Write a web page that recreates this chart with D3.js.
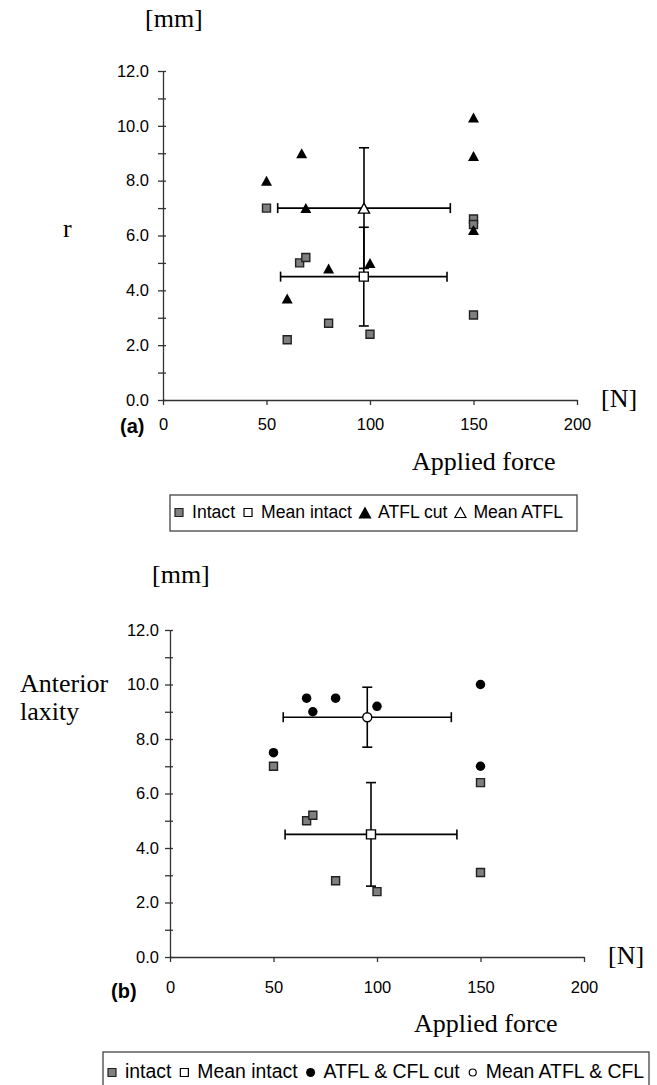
<!DOCTYPE html>
<html>
<head>
<meta charset="utf-8">
<script src="https://cdn.jsdelivr.net/npm/d3@7"></script>
<style>
  body { margin: 0; background: #fff; }
  svg { display: block; }
  .tick text { font-family: "Liberation Sans", Arial, sans-serif; font-size: 16.5px; fill: #000; }
  .tick line, .domain { stroke: #333; stroke-width: 1.3; }
  .serif { font-family: "Liberation Serif", "Times New Roman", serif; font-size: 26px; fill: #000; }
  .sans { font-family: "Liberation Sans", Arial, sans-serif; fill: #000; }
</style>
</head>
<body>
<script>
// ---- panel (a): intact vs ATFL cut ----
var forceIntactA = [50, 60, 66, 69, 80, 100, 150, 150, 150];
var laxIntactA   = [7.0, 2.2, 5.0, 5.2, 2.8, 2.4, 6.6, 6.4, 3.1];
var forceCutA    = [50, 60, 67, 69, 80, 100, 150, 150, 150];
var laxCutA      = [8.0, 3.7, 9.0, 7.0, 4.8, 5.0, 10.3, 8.9, 6.2];
// means and sd: [intact, ATFL cut]
var meanForceA = [97.0, 97.1];
var sdForceA   = [40.2, 41.7];
var meanLaxA   = [4.5, 7.0];
var sdLaxA     = [1.8, 2.2];
var legendA    = ["Intact", "Mean intact", "ATFL cut", "Mean ATFL"];

// ---- panel (b): intact vs ATFL & CFL cut ----
var forceIntactB = [50, 66, 69, 80, 100, 150, 150];
var laxIntactB   = [7.0, 5.0, 5.2, 2.8, 2.4, 6.4, 3.1];
var forceCutB    = [50, 66, 69, 80, 100, 150, 150];
var laxCutB      = [7.5, 9.5, 9.0, 9.5, 9.2, 10.0, 7.0];
// means and sd: [intact, ATFL & CFL cut]
var meanForceB = [97.1, 95.3];
var sdForceB   = [41.5, 40.6];
var meanLaxB   = [4.5, 8.8];
var sdLaxB     = [1.9, 1.1];
var legendB    = ["intact", "Mean intact", "ATFL & CFL cut", "Mean ATFL & CFL"];

var forceTicks = [0, 50, 100, 150, 200];
var laxTicks   = [0, 2, 4, 6, 8, 10, 12];
var laxMinor   = [1, 3, 5, 7, 9, 11];

var svg = d3.select("body").append("svg")
    .attr("width", 657)
    .attr("height", 1085);

// marker path for a given kind, s = size in px
function markerPath(kind, s) {
  if (kind == "square") {
    return "M" + (-s/2) + "," + (-s/2) + "h" + s + "v" + s + "h" + (-s) + "Z";
  }
  if (kind == "triangle") {
    var w = s * 1.1;
    return "M0," + (-s/2) + "L" + (w/2) + "," + (s/2) + "L" + (-w/2) + "," + (s/2) + "Z";
  }
  // circle
  var r = s / 2;
  return "M" + r + ",0A" + r + "," + r + " 0 1,1 " + (-r) + ",0A" + r + "," + r + " 0 1,1 " + r + ",0Z";
}

// style for each of the four series: raw intact, mean intact, raw cut, mean cut
function seriesStyle(i, cutKind) {
  if (i == 0) return {kind: "square", fill: "#7f7f7f", stroke: "#222"};
  if (i == 1) return {kind: "square", fill: "#fff", stroke: "#000"};
  if (i == 2) return {kind: cutKind, fill: "#000", stroke: "none"};
  return {kind: cutKind, fill: "#fff", stroke: "#000"};
}

function drawPanel(p) {
  var x = d3.scaleLinear().domain([0, 200]).range([p.left, p.right]);
  var y = d3.scaleLinear().domain([0, 12]).range([p.bottom, p.top]);

  var g = svg.append("g");

  // y axis, major ticks crossing the line
  var yAxis = g.append("g")
      .attr("transform", "translate(" + p.left + ",0)")
      .call(d3.axisLeft(y).tickValues(laxTicks).tickFormat(d3.format(".1f"))
          .tickSizeInner(5).tickSizeOuter(0).tickPadding(p.yPad));
  yAxis.selectAll(".tick line").attr("x1", 3);

  // minor ticks
  g.append("g")
      .attr("transform", "translate(" + p.left + ",0)")
      .call(d3.axisLeft(y).tickValues(laxMinor).tickFormat("").tickSizeInner(5).tickSizeOuter(0))
      .call(function(a) { a.select(".domain").remove(); })
      .selectAll(".tick line").attr("x1", 3);

  // x axis
  g.append("g")
      .attr("transform", "translate(0," + p.bottom + ")")
      .call(d3.axisBottom(x).tickValues(forceTicks).tickFormat(d3.format("d"))
          .tickSizeInner(5).tickSizeOuter(0).tickPadding(p.xPad));

  // raw points
  var intact = p.forceIntact.map(function(f, i) { return {f: f, v: p.laxIntact[i]}; });
  var cut = p.forceCut.map(function(f, i) { return {f: f, v: p.laxCut[i]}; });

  var s0 = seriesStyle(0, p.cutKind);
  g.selectAll(".intact")
      .data(intact)
      .enter().append("path")
      .attr("class", "intact")
      .attr("transform", function(d) { return "translate(" + x(d.f) + "," + y(d.v) + ")"; })
      .attr("d", markerPath("square", 8))
      .attr("fill", s0.fill)
      .attr("stroke", s0.stroke)
      .attr("stroke-width", 1.4);

  var s2 = seriesStyle(2, p.cutKind);
  g.selectAll(".cut")
      .data(cut)
      .enter().append("path")
      .attr("class", "cut")
      .attr("transform", function(d) { return "translate(" + x(d.f) + "," + y(d.v) + ")"; })
      .attr("d", markerPath(p.cutKind, p.cutKind == "triangle" ? 10 : 9.5))
      .attr("fill", s2.fill);

  // means with error bars
  var means = p.meanForce.map(function(f, i) {
    return {f: f, v: p.meanLax[i], sf: p.sdForce[i], sv: p.sdLax[i], i: i};
  });

  var bars = g.selectAll(".err")
      .data(means)
      .enter().append("g")
      .attr("class", "err")
      .attr("stroke", "#000")
      .attr("stroke-width", 1.6)
      .attr("fill", "none");

  bars.append("line")
      .attr("x1", function(d) { return x(d.f - d.sf); })
      .attr("x2", function(d) { return x(d.f + d.sf); })
      .attr("y1", function(d) { return y(d.v); })
      .attr("y2", function(d) { return y(d.v); });
  bars.append("line")
      .attr("x1", function(d) { return x(d.f); })
      .attr("x2", function(d) { return x(d.f); })
      .attr("y1", function(d) { return y(d.v - d.sv); })
      .attr("y2", function(d) { return y(d.v + d.sv); });
  // caps
  [-1, 1].forEach(function(k) {
    bars.append("line")
        .attr("x1", function(d) { return x(d.f + k * d.sf); })
        .attr("x2", function(d) { return x(d.f + k * d.sf); })
        .attr("y1", function(d) { return y(d.v) - 5; })
        .attr("y2", function(d) { return y(d.v) + 5; });
    bars.append("line")
        .attr("x1", function(d) { return x(d.f) - 5; })
        .attr("x2", function(d) { return x(d.f) + 5; })
        .attr("y1", function(d) { return y(d.v + k * d.sv); })
        .attr("y2", function(d) { return y(d.v + k * d.sv); });
  });

  g.selectAll(".mean")
      .data(means)
      .enter().append("path")
      .attr("class", "mean")
      .attr("transform", function(d) { return "translate(" + x(d.f) + "," + y(d.v) + ")"; })
      .attr("d", function(d) {
        return d.i == 0 ? markerPath("square", 9) : markerPath(p.cutKind, p.cutKind == "triangle" ? 10 : 9);
      })
      .attr("fill", "#fff")
      .attr("stroke", "#000")
      .attr("stroke-width", 1.4);

  // titles
  g.append("text").attr("class", "serif")
      .attr("x", p.mmX).attr("y", p.mmY).text("[mm]");
  g.append("text").attr("class", "serif")
      .attr("x", p.right + 24).attr("y", p.bottom + 7).text("[N]");
  g.append("text").attr("class", "serif")
      .attr("x", p.forceLabelX).attr("y", p.forceLabelY).text("Applied force");
  p.yLabel.forEach(function(t, i) {
    g.append("text").attr("class", "serif")
        .attr("x", p.yLabelX).attr("y", p.yLabelY + i * 28).text(t);
  });
  g.append("text").attr("class", "sans")
      .attr("x", p.tagX).attr("y", p.tagY)
      .attr("font-size", 20).attr("font-weight", "bold")
      .text(p.tag);

  // legend
  var lg = g.append("g");
  lg.append("rect")
      .attr("x", p.legX).attr("y", p.legY)
      .attr("width", p.legW).attr("height", p.legH)
      .attr("fill", "none").attr("stroke", "#444").attr("stroke-width", 1.3);

  var cursor = p.legX + 4;
  p.legend.forEach(function(label, i) {
    var st = seriesStyle(i, p.cutKind);
    var sz = st.kind == "triangle" ? (i == 2 ? 12 : 10) : (st.kind == "circle" ? (i == 2 ? 9 : 7) : 8);
    lg.append("path")
        .attr("transform", "translate(" + (cursor + 5) + "," + (p.legTextY - 5.5) + ")")
        .attr("d", markerPath(st.kind, sz))
        .attr("fill", st.fill)
        .attr("stroke", st.stroke)
        .attr("stroke-width", 1.2);
    var t = lg.append("text").attr("class", "sans")
        .attr("x", cursor + 18).attr("y", p.legTextY)
        .attr("font-size", p.legFont)
        .text(label);
    cursor += 18 + t.node().getComputedTextLength() + 8;
  });
}

drawPanel({
  left: 163, right: 577, top: 71, bottom: 400, yPad: 9, xPad: 13,
  forceIntact: forceIntactA, laxIntact: laxIntactA,
  forceCut: forceCutA, laxCut: laxCutA, cutKind: "triangle",
  meanForce: meanForceA, sdForce: sdForceA, meanLax: meanLaxA, sdLax: sdLaxA,
  mmX: 145, mmY: 27, forceLabelX: 412, forceLabelY: 470,
  yLabel: ["r"], yLabelX: 63, yLabelY: 237,
  tag: "(a)", tagX: 120, tagY: 433,
  legend: legendA, legX: 170, legY: 495, legW: 407, legH: 36, legTextY: 518, legFont: 17.6
});

drawPanel({
  left: 170, right: 584, top: 630, bottom: 957, yPad: 6, xPad: 19,
  forceIntact: forceIntactB, laxIntact: laxIntactB,
  forceCut: forceCutB, laxCut: laxCutB, cutKind: "circle",
  meanForce: meanForceB, sdForce: sdForceB, meanLax: meanLaxB, sdLax: sdLaxB,
  mmX: 152, mmY: 583, forceLabelX: 414, forceLabelY: 1032,
  yLabel: ["Anterior", "laxity"], yLabelX: 20, yLabelY: 692,
  tag: "(b)", tagX: 111, tagY: 998,
  legend: legendB, legX: 103, legY: 1052, legW: 546, legH: 40, legTextY: 1078, legFont: 19.4
});
</script>
</body>
</html>
